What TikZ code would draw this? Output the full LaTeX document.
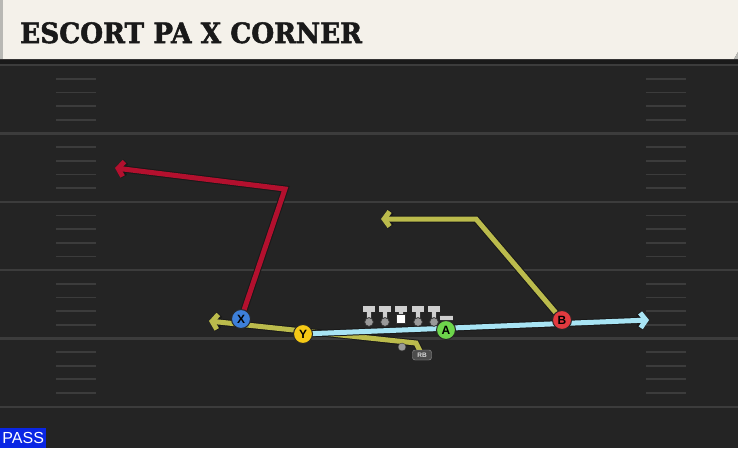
\documentclass[tikz,border=0pt]{standalone}
\usepackage{fontspec}
\setmainfont{Liberation Sans}
\newfontfamily\headfont[FakeStretch=0.94,BoldFeatures={FakeBold=1.8}]{DejaVu Serif}
\usetikzlibrary{arrows.meta,positioning}

\definecolor{fieldbg}{HTML}{242424}
\definecolor{bandbg}{HTML}{1A1A1A}
\definecolor{yardgrey}{HTML}{3C3C3C}
\definecolor{headbg}{HTML}{F4F1EA}
\definecolor{headedge}{HTML}{B8B8B4}
\definecolor{passblue}{HTML}{0A26E4}
\definecolor{routered}{HTML}{B3102E}
\definecolor{routeolive}{HTML}{BBBB4C}
\definecolor{routesky}{HTML}{A8E4F4}
\definecolor{xblue}{HTML}{3D7FD9}
\definecolor{yyellow}{HTML}{F6C915}
\definecolor{agreen}{HTML}{6DD64B}
\definecolor{bred}{HTML}{E23A3F}
\definecolor{linegrey}{HTML}{CFCFCF}
\definecolor{dotgrey}{HTML}{999999}

\pgfdeclarelayer{field}
\pgfdeclarelayer{routes}
\pgfsetlayers{field,routes,main}

\tikzset{
	yardline/.style={yardgrey, line width=2.2pt},
	hashmark/.style={yardgrey, line width=1.8pt},
	title/.style={font=\headfont\bfseries\fontsize{28}{28}\selectfont, text=black!90, inner sep=0pt},
	passbox/.style={fill=passblue, text=white, font=\fontsize{16}{16}\selectfont, minimum width=46pt, minimum height=20pt, inner sep=0pt},
	player/.style={circle, draw=black!85, line width=1pt, minimum size=19pt, inner sep=0pt, font=\bfseries\fontsize{12}{12}\selectfont},
	route/.style={line width=5pt, -{Straight Barb[length=5.5pt,width=15pt]}, preaction={draw=black!90, line width=7pt}},
	lineman/.style={draw=linegrey, preaction={draw=black!80, line width=#1+1.6pt}, line width=#1},
	rbtag/.style={draw=dotgrey, fill=black!70, rounded corners=2.5pt, text=white!85!black, font=\bfseries\fontsize{6.5}{6.5}\selectfont, minimum width=19pt, minimum height=10pt, inner sep=0pt}
}

\begin{document}
\begin{tikzpicture}[x=1pt, y=-1pt]
	\useasboundingbox (0,0) rectangle (738,448);
	\begin{pgfonlayer}{field}
		\fill[fieldbg] (0,0) rectangle (738,448);
		\fill[bandbg] (0,59) rectangle (738,64);
		\foreach \yl in {0,...,5}
			\draw[yardline] (0,{65.2+68.3*\yl}) -- (738,{65.2+68.3*\yl});
		\foreach \yl in {0,...,4}
			\foreach \k in {1,...,4} {
				\draw[hashmark] (56,{65.2+68.3*\yl+13.66*\k}) -- (96,{65.2+68.3*\yl+13.66*\k});
				\draw[hashmark] (646,{65.2+68.3*\yl+13.66*\k}) -- (686,{65.2+68.3*\yl+13.66*\k});
			}
		\fill[headbg] (0,0) -- (738,0) -- (738,52) -- (734,59) -- (0,59) -- cycle;
		\fill[headedge] (0,0) rectangle (3,59);
		\fill[headedge] (734,59) -- (738,52) -- (738,59) -- cycle;
	\end{pgfonlayer}

	\node[title, anchor=base west] (title) at (20,43) {ESCORT PA X CORNER};
	\node[passbox, anchor=south west] (pass) at (0,448) {PASS};

	\node[player, fill=xblue] (X) at (241,319) {X};
	\node[player, fill=yyellow] (Y) at (303,334) {Y};
	\node[player, fill=agreen] (A) at (446,330) {A};
	\node[player, fill=bred] (B) at (562,320) {B};
	\node[circle, fill=dotgrey, draw=black!80, minimum size=8pt, inner sep=0pt] (rbdot) at (402,347) {};
	\node[rbtag] (RB) at (422,355) {RB};

	% offensive line
	\foreach \lx in {369,385,418,434} {
		\draw[lineman=3.6pt] (\lx,309) -- (\lx,320);
		\draw[lineman=5.2pt] (\lx-6,309) -- (\lx+6,309);
		\fill[dotgrey, draw=black!80, line width=0.8pt] (\lx,322) circle (4.4pt);
	}
	\draw[lineman=3.6pt] (401,309) -- (401,316);
	\draw[lineman=5.2pt] (395,309) -- (407,309);
	\node[fill=white, draw=black!80, line width=0.8pt, minimum size=9pt, inner sep=0pt] (center) at (401,319) {};
	\coordinate (aBlock) at (446,318);
	\draw[lineman=4pt] (439.5,318) -- (452.5,318);

	\coordinate (xBreak) at (285,189);
	\coordinate (xEnd) at (115,168);
	\coordinate (bBreak) at (476,219);
	\coordinate (bEnd) at (381,219);
	\coordinate (rbBreak) at (416,343);
	\coordinate (rbEnd) at (209,321);
	\coordinate (yEnd) at (649,320);
	\begin{pgfonlayer}{routes}
		\draw[route, draw=routered] (X.center) -- (xBreak) -- (xEnd);
		\draw[route, draw=routeolive] (B.center) -- (bBreak) -- (bEnd);
		\draw[route, draw=routeolive] (RB.center) -- (rbBreak) -- (rbEnd);
		\draw[route, draw=routesky] (Y.center) -- (yEnd);
		\draw[lineman=3.6pt] (aBlock) -- (A.center);
	\end{pgfonlayer}
\end{tikzpicture}
\end{document}
